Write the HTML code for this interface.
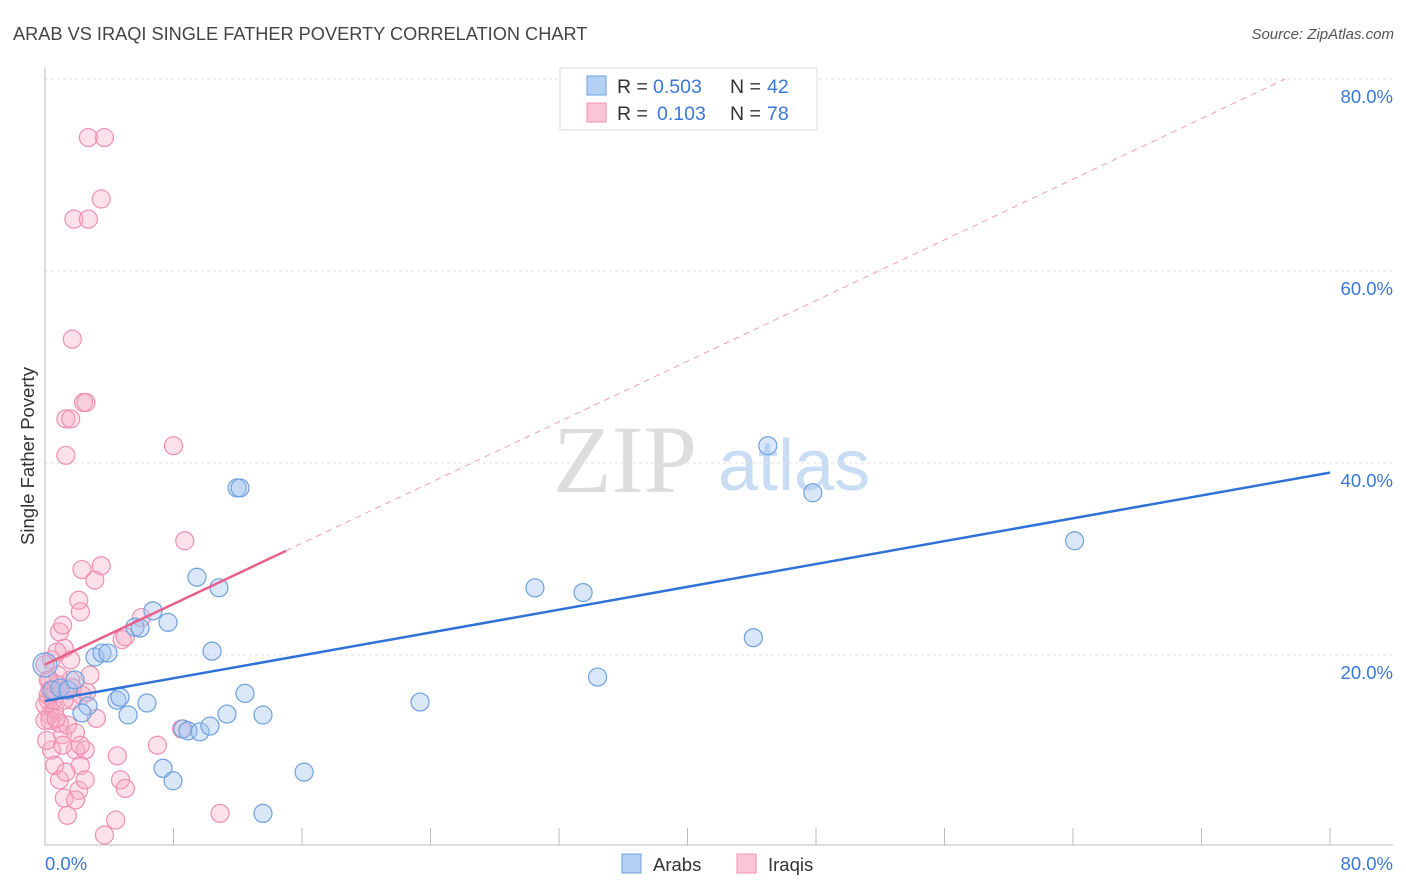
<!DOCTYPE html>
<html><head><meta charset="utf-8"><style>
body{margin:0;background:#fff;font-family:"Liberation Sans",sans-serif;}
svg{display:block}
</style></head><body>
<svg id="chart" width="1406" height="892">
<text x="13" y="40" font-size="18.2" fill="#444">ARAB VS IRAQI SINGLE FATHER POVERTY CORRELATION CHART</text>
<text x="1394" y="39" font-size="15" fill="#555" font-style="italic" text-anchor="end">Source: ZipAtlas.com</text>
<text transform="translate(34,456) rotate(-90)" font-size="18.5" fill="#333" text-anchor="middle">Single Father Poverty</text>
<g>
<text x="553" y="492" font-family="Liberation Serif,serif" font-size="96" fill="#ddd">ZIP</text>
<text x="718" y="490" font-size="72" fill="#c8dcf3">atlas</text>
</g>
<g id="grid"></g>
<g id="marks"></g>
<g>
<rect x="560" y="68" width="257" height="62" fill="#fff" stroke="#ddd"/>
<rect x="587" y="76" width="19" height="19" fill="#b5d0f5" stroke="#6fa0e0"/>
<rect x="587" y="103" width="19" height="19" fill="#fac6d6" stroke="#f090b0"/>
<text x="617" y="93" font-size="19.5" fill="#333">R =</text>
<text x="653" y="93" font-size="19.5" fill="#3a78d8">0.503</text>
<text x="730" y="93" font-size="19.5" fill="#333">N =</text>
<text x="767" y="93" font-size="19.5" fill="#3a78d8">42</text>
<text x="617" y="120" font-size="19.5" fill="#333">R =</text>
<text x="657" y="120" font-size="19.5" fill="#3a78d8">0.103</text>
<text x="730" y="120" font-size="19.5" fill="#333">N =</text>
<text x="767" y="120" font-size="19.5" fill="#3a78d8">78</text>
</g>
<g>
<rect x="622" y="854" width="19" height="19" fill="#b5d0f5" stroke="#6fa0e0"/>
<text x="653" y="871" font-size="18.5" fill="#333">Arabs</text>
<rect x="737" y="854" width="19" height="19" fill="#fac6d6" stroke="#f090b0"/>
<text x="768" y="871" font-size="18.5" fill="#333">Iraqis</text>
</g>
</svg>
<script>
const yTicks=[20,40,60,80];
const yTickLabels=["20.0%","40.0%","60.0%","80.0%"];
const xTickLabels=["0.0%","80.0%"];
const arabX=[0,0.44,0.93,1.43,1.87,2.68,2.3,3.11,3.55,3.92,4.48,4.67,5.17,5.6,5.92,6.35,6.72,7.66,8.59,8.9,9.46,9.65,10.27,10.4,10.83,11.33,11.96,12.14,12.45,13.57,7.35,7.97,13.57,16.13,23.35,30.5,33.5,34.4,44.1,45.0,47.8,64.1];
const arabY=[18.96,16.35,16.56,16.35,17.4,14.69,13.96,19.79,20.2,20.2,15.3,15.6,13.75,22.9,22.8,15.0,24.6,23.4,12.3,12.1,28.1,12.0,12.6,20.4,27.0,13.85,37.4,37.4,16.0,13.75,8.2,6.9,3.5,7.8,15.1,27.0,26.5,17.7,21.8,41.8,36.9,31.9];
const iraqiX=[0,.3,.2,.3,.6,.4,.6,.9,1.2,1.4,1.6,1.7,1.9,2.1,2.2,2.5,.9,1.1,1.2,1.6,.9,1.1,1.4,1.9,2.1,2.2,2.3,3.1,3.5,2.8,3.2,2.6,2.5,1.9,3.7,4.4,4.5,4.7,5.0,4.8,5.0,6.0,7.0,8.5,8.7,8.0,10.9,1.3,1.3,1.6,1.7,2.4,2.55,1.8,2.7,2.7,3.7,3.5,.3,0,.3,.6,.8,.2,.4,1.1,1.3,1.7,2.2,.8,0,.1,.5,.7,1.2,2.3,.75,.2];
const iraqiY=[19.0,17.4,15.3,13.75,16.35,10.1,8.5,7.0,5.1,3.3,17.4,15.3,10.1,5.9,8.5,10.1,22.4,23.1,20.7,19.5,12.9,11.7,12.7,11.9,25.7,24.5,28.9,27.8,29.3,17.9,13.4,16.1,7.0,4.9,1.25,2.8,9.5,7.0,6.1,21.6,21.9,23.9,10.6,12.3,31.9,41.8,3.5,40.8,44.6,44.6,52.9,46.3,46.3,65.4,65.4,73.9,73.9,67.5,13.2,14.8,16.35,14.3,17.9,15.8,19.5,10.6,7.8,16.6,10.6,16.9,13.2,11.1,15.3,13.4,15.3,15.8,20.3,17.4];
const arabTrend=[15.2,39.0];
const iraqiTrend=[19.0,0.79];
const NS="http://www.w3.org/2000/svg";
const X0=45,X1=1330,YB=847,PT=68;
function sx(v){return X0+v*(X1-X0)/80;}
function sy(v){return YB-v*9.6;}
function mk(tag,attrs,parent){const e=document.createElementNS(NS,tag);for(const k in attrs)e.setAttribute(k,attrs[k]);parent.appendChild(e);return e;}
const grid=document.getElementById('grid'),marks=document.getElementById('marks');
yTicks.forEach((t,i)=>{
 const l=mk('line',{x1:X0,x2:1393,y1:sy(t),y2:sy(t),stroke:'#e2e2e2','stroke-dasharray':'3,3'},grid);
 
 
 const tx=mk('text',{x:1393,y:sy(t)+24,'font-size':18.5,fill:'#3a78d8','text-anchor':'end'},grid);
 tx.textContent=yTickLabels[i];
 
 
});
const ax=mk('line',{x1:X0,x2:X0,y1:PT,y2:845,stroke:'#bbb'},grid);


const bx=mk('line',{x1:X0,x2:1393,y1:845,y2:845,stroke:'#bbb'},grid);


for(let i=1;i<=10;i++){
 const tk=mk('line',{x1:sx(i*8),x2:sx(i*8),y1:828,y2:845,stroke:'#bbb'},grid);
 
 
}
const xl0=mk('text',{x:45,y:870,'font-size':18.5,fill:'#3a78d8'},grid);xl0.textContent=xTickLabels[0];


const xl1=mk('text',{x:1393,y:870,'font-size':18.5,fill:'#3a78d8','text-anchor':'end'},grid);xl1.textContent=xTickLabels[1];


iraqiX.forEach((x,i)=>{
 const c=mk('circle',{cx:sx(x),cy:sy(iraqiY[i]),r:9,fill:'rgba(246,170,196,0.35)',stroke:'#f090b0','stroke-width':1.2},marks);
 
 
});
arabX.forEach((x,i)=>{
 const c=mk('circle',{cx:sx(x),cy:sy(arabY[i]),r:i==0?12:9,fill:'rgba(160,196,240,0.4)',stroke:'#6fa0e0','stroke-width':1.2},marks);
 
 
});
const ta=mk('line',{x1:sx(0),y1:sy(arabTrend[0]),x2:sx(80),y2:sy(arabTrend[1]),stroke:'#2f72d6','stroke-width':2.5},marks);


const xEnd=(80-iraqiTrend[0])/iraqiTrend[1];
const td=mk('line',{x1:sx(15),y1:sy(iraqiTrend[0]+15*iraqiTrend[1]),x2:sx(xEnd),y2:sy(80),stroke:'#f0a0b8','stroke-width':1,'stroke-dasharray':'6,5'},marks);


const tp=mk('line',{x1:sx(0),y1:sy(iraqiTrend[0]),x2:sx(15),y2:sy(iraqiTrend[0]+15*iraqiTrend[1]),stroke:'#e8608a','stroke-width':2.5},marks);


</script>
</body></html>
